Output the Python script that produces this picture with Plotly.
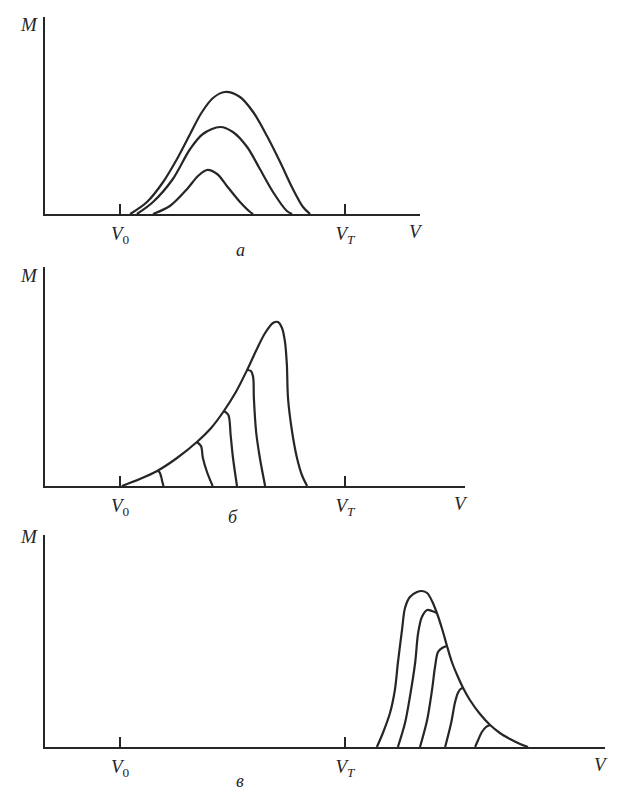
import plotly.graph_objects as go

# ---------------- data (V in units where V0 = 2, VT = 8; M in arbitrary units) -------------
tick_vals = [2, 8]
tick_text = ["<i>V</i><sub>0</sub>", "<i>V</i><sub><i>T</i></sub>"]
captions = ["а", "б", "в"]

# panel а : three bell-shaped curves
a_outer_v = [2.27, 2.72, 3.15, 3.52, 3.87, 4.17, 4.48, 4.80, 5.20, 5.55, 5.92, 6.27, 6.61, 6.88, 7.07]
a_outer_m = [0.0, 1.2, 3.2, 5.5, 8.0, 10.1, 11.6, 12.2, 11.7, 10.2, 7.8, 5.2, 2.5, 0.7, 0.0]
a_mid_v = [2.45, 2.88, 3.41, 3.87, 4.21, 4.67, 5.01, 5.39, 5.73, 6.08, 6.45, 6.59]
a_mid_m = [0.0, 1.2, 3.5, 6.5, 8.0, 8.7, 8.2, 6.7, 4.5, 2.2, 0.3, 0.0]
a_inner_v = [2.88, 3.33, 3.79, 4.08, 4.32, 4.59, 4.85, 5.20, 5.47, 5.55]
a_inner_m = [0.0, 0.8, 2.5, 3.8, 4.4, 4.0, 2.8, 1.2, 0.2, 0.0]

# panel б : envelope and branches falling off it
b_env_v = [2.05, 2.53, 2.99, 3.52, 4.05, 4.43, 4.77, 5.09, 5.39, 5.65, 5.87, 6.08, 6.21,
           6.32, 6.40, 6.45, 6.48, 6.59, 6.72, 6.85, 6.99]
b_env_m = [0.0, 0.7, 1.5, 2.8, 4.4, 5.8, 7.5, 9.4, 11.6, 13.7, 15.3, 16.3, 16.4,
           15.8, 14.4, 12.1, 8.8, 5.4, 2.8, 1.1, 0.0]
b_br1_v = [2.99, 3.05, 3.10, 3.13, 3.16]
b_br1_m = [1.5, 1.4, 0.9, 0.4, 0.0]
b_br2_v = [4.05, 4.16, 4.21, 4.32, 4.47]
b_br2_m = [4.4, 4.0, 2.8, 1.4, 0.0]
b_br3_v = [4.77, 4.89, 4.95, 5.01, 5.12]
b_br3_m = [7.5, 7.1, 5.1, 2.9, 0.0]
b_br4_v = [5.39, 5.49, 5.55, 5.57, 5.63, 5.73, 5.87]
b_br4_m = [11.6, 11.5, 10.9, 8.8, 5.4, 2.8, 0.0]

# panel в : envelope and branches rising to it
c_env_v = [8.85, 9.01, 9.20, 9.33, 9.41, 9.52, 9.60, 9.73, 9.92, 10.05, 10.19, 10.32, 10.45,
           10.59, 10.72, 10.85, 10.99, 11.15, 11.33, 11.60, 11.87, 12.13, 12.40, 12.67, 12.88]
c_env_m = [0.0, 1.4, 3.4, 5.7, 8.4, 11.7, 13.9, 15.0, 15.5, 15.6, 15.4, 14.6, 13.4,
           11.8, 10.1, 8.5, 7.2, 5.9, 4.7, 3.3, 2.2, 1.4, 0.8, 0.3, 0.0]
c_br2_v = [9.41, 9.60, 9.73, 9.87, 9.95, 10.05, 10.19, 10.32, 10.45]
c_br2_m = [0.0, 2.4, 5.0, 8.4, 11.4, 13.0, 13.7, 13.6, 13.4]
c_br3_v = [10.00, 10.19, 10.32, 10.40, 10.48, 10.59, 10.72]
c_br3_m = [0.0, 2.7, 5.7, 8.0, 9.5, 9.9, 10.1]
c_br4_v = [10.67, 10.83, 10.93, 11.01, 11.08, 11.15]
c_br4_m = [0.0, 2.4, 4.4, 5.4, 5.8, 5.9]
c_br5_v = [11.47, 11.55, 11.65, 11.76, 11.87]
c_br5_m = [0.0, 0.7, 1.5, 2.0, 2.2]

# axis extents (V max, M max) per panel
x_max = [10.0, 11.2, 14.93]
y_max = [19.7, 21.9, 21.2]

# ---------------- layout geometry ----------------
# the page adds an 8 px body margin, so the figure is drawn 8 px in from the window edge
OFF = 8
W, H = 612, 791
left_px = 45 - OFF
px_per_v = 37.5
base_px = [214 - OFF, 486 - OFF, 747 - OFF]
top_px = [17 - OFF, 267 - OFF, 535 - OFF]
m_label_y = [25, 275, 536]
cap_pos = [(240, 250), (233, 517), (240, 781)]

ink = "#262626"
serif = "Liberation Serif, Times New Roman, serif"

fig = go.Figure()

panels = [
    [(a_outer_v, a_outer_m), (a_mid_v, a_mid_m), (a_inner_v, a_inner_m)],
    [(b_env_v, b_env_m), (b_br1_v, b_br1_m), (b_br2_v, b_br2_m), (b_br3_v, b_br3_m), (b_br4_v, b_br4_m)],
    [(c_env_v, c_env_m), (c_br2_v, c_br2_m), (c_br3_v, c_br3_m), (c_br4_v, c_br4_m), (c_br5_v, c_br5_m)],
]

for i, curves in enumerate(panels):
    xa = "x" if i == 0 else f"x{i+1}"
    ya = "y" if i == 0 else f"y{i+1}"
    for v, m in curves:
        fig.add_trace(go.Scatter(x=v, y=m, mode="lines", xaxis=xa, yaxis=ya,
                                 line=dict(color=ink, width=2.2, shape="spline", smoothing=0.9),
                                 hoverinfo="skip", showlegend=False))
    xd = [left_px / W, (left_px + x_max[i] * px_per_v) / W]
    yd = [1 - base_px[i] / H, 1 - top_px[i] / H]
    xkey = "xaxis" if i == 0 else f"xaxis{i+1}"
    ykey = "yaxis" if i == 0 else f"yaxis{i+1}"
    fig.update_layout(**{
        xkey: dict(domain=xd, range=[0, x_max[i]], anchor=ya, showgrid=False, zeroline=False,
                   showline=True, linecolor=ink, linewidth=2,
                   tickmode="array", tickvals=tick_vals, ticktext=tick_text,
                   ticks="inside", ticklen=10, tickwidth=1.5, tickcolor=ink,
                   ticklabelstandoff=1,
                   tickfont=dict(family=serif, size=19, color=ink)),
        ykey: dict(domain=yd, range=[0, y_max[i]], anchor=xa, showgrid=False, zeroline=False,
                   showline=True, linecolor=ink, linewidth=2, showticklabels=False, ticks=""),
    })
    # M label at top of the vertical axis
    fig.add_annotation(x=(29 - OFF) / W, y=1 - (m_label_y[i] - OFF) / H, xref="paper", yref="paper",
                       xanchor="center", yanchor="middle",
                       text="<i>M</i>", showarrow=False,
                       font=dict(family=serif, size=19, color=ink))
    # V label at the end of the horizontal axis
    fig.add_annotation(x=x_max[i], y=0, xref=xa, yref=ya, text="<i>V</i>", showarrow=False,
                       xanchor="center", yanchor="top", yshift=-5, xshift=-4,
                       font=dict(family=serif, size=19, color=ink))

# captions
for txt, (cx, cy) in zip(captions, cap_pos):
    fig.add_annotation(x=(cx - OFF) / W, y=1 - (cy - OFF) / H, xref="paper", yref="paper",
                       xanchor="center", yanchor="middle",
                       text=f"<i>{txt}</i>", showarrow=False,
                       font=dict(family=serif, size=18, color=ink))

fig.update_layout(width=W, height=H, margin=dict(l=0, r=0, t=0, b=0),
                  paper_bgcolor="white", plot_bgcolor="white")

fig.write_html("out.html")
